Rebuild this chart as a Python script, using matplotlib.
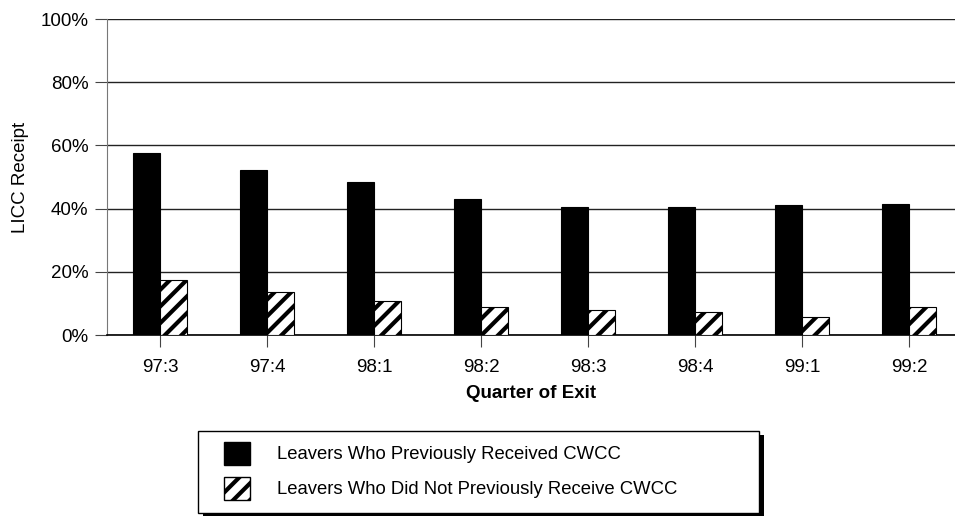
import numpy as np
import matplotlib.pyplot as plt
from matplotlib.patches import Rectangle, Patch

# 退出四半期ごとのLICC受給率
quarters = ['97:3', '97:4', '98:1', '98:2', '98:3', '98:4', '99:1', '99:2']
prev_cwcc = [57.7, 52.2, 48.5, 42.9, 40.4, 40.4, 41.1, 41.5]
no_prev_cwcc = [17.4, 13.7, 10.9, 9.0, 7.9, 7.2, 5.8, 9.0]
y_ticks = [0, 20, 40, 60, 80, 100]
legend_labels = ['Leavers Who Previously Received CWCC',
                 'Leavers Who Did Not Previously Receive CWCC']

plt.rcParams['font.family'] = ['Liberation Sans', 'DejaVu Sans']
plt.rcParams['hatch.linewidth'] = 3.0
plt.rcParams['hatch.color'] = 'black'

W, H = 955, 516
fig = plt.figure(figsize=(W / 100, H / 100), dpi=100)
ax = fig.add_axes([106.5 / W, 1 - 335 / H, (W - 106.5) / W, (335 - 19) / H])

x = np.arange(len(quarters))
bw = 0.25
ax.bar(x - bw / 2, prev_cwcc, bw, color='black', edgecolor='black',
       linewidth=0.8, zorder=3)
ax.bar(x + bw / 2, no_prev_cwcc, bw, color='white', edgecolor='black',
       hatch='//', linewidth=0.8, zorder=3)

ax.set_xlim(-0.5, 7.43)
ax.set_ylim(0, 100)
ax.set_yticks(y_ticks)
ax.set_yticklabels([f'{v}%' for v in y_ticks], fontsize=13.5)
ax.set_xticks(x)
ax.set_xticklabels(quarters, fontsize=13.5)
ax.tick_params(axis='y', length=9, width=0.8, pad=4, color='#444444')
ax.tick_params(axis='x', length=8.5, width=0.8, pad=9, color='#444444')

# グリッド線と枠
ax.grid(axis='y', color='#222222', linewidth=1.0, zorder=1)
ax.set_axisbelow(True)
for s in ['top', 'right']:
    ax.spines[s].set_visible(False)
ax.spines['left'].set_color('#777777')
ax.spines['left'].set_linewidth(0.8)
ax.spines['bottom'].set_color('black')
ax.spines['bottom'].set_linewidth(1.2)

ax.set_ylabel('LICC Receipt', fontsize=13.5, labelpad=8)
ax.set_xlabel('Quarter of Exit', fontsize=13.5, fontweight='bold', labelpad=6)

# 凡例（影付きの枠は別に描く）
bx0, bx1, by0, by1 = 198, 759, 431, 513
shadow = Rectangle((bx0 + 5, H - by1 - 4), bx1 - bx0, by1 - by0,
                   transform=None, facecolor='black', edgecolor='none')
box = Rectangle((bx0, H - by1), bx1 - bx0, by1 - by0, transform=None,
                facecolor='white', edgecolor='black', linewidth=1.0)
fig.patches.extend([shadow, box])

handles = [Patch(facecolor='black', edgecolor='black'),
           Patch(facecolor='white', edgecolor='black', hatch='//')]
fig.legend(handles, legend_labels, loc='upper left',
           bbox_to_anchor=(224 / W, 1 - 442 / H), frameon=False,
           fontsize=13.3, handlelength=1.4, handleheight=1.5,
           handletextpad=1.45, labelspacing=0.68, borderpad=0,
           borderaxespad=0)

fig.savefig('out.png', dpi=100)
